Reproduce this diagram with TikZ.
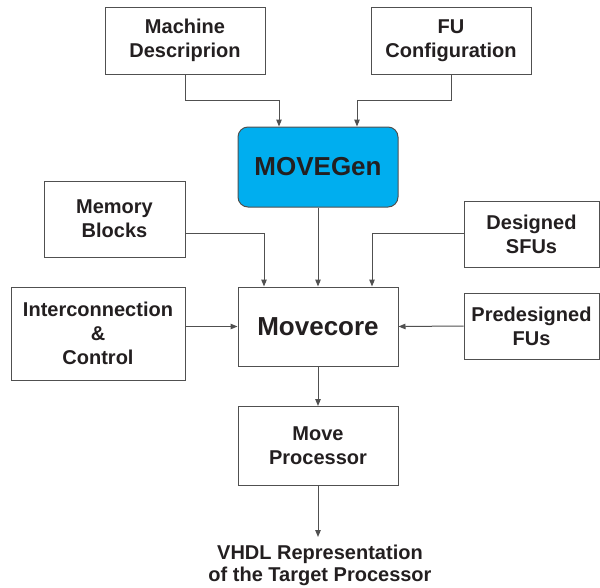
\documentclass[tikz,border=0pt]{standalone}
\usepackage{fontspec}
\setmainfont{Liberation Sans}
\usetikzlibrary{arrows.meta}
\definecolor{ink}{HTML}{231F20}
\definecolor{edge}{HTML}{505050}
\definecolor{gencyan}{HTML}{00AEEF}
\tikzset{
  blk/.style={draw=edge, line width=1pt, fill=white, align=center,
    font=\fontsize{20}{24}\selectfont\bfseries, text=ink, inner sep=0pt},
  bigblk/.style={blk, font=\fontsize{26}{30}\selectfont\bfseries},
  arr/.style={draw=edge, line width=1pt,
    -{Triangle[length=7pt,width=5.5pt]}},
}
\begin{document}
\begin{tikzpicture}[x=1pt,y=-1pt]
\useasboundingbox (0,0) rectangle (600,587);

% input specifications
\node[blk, minimum width=160pt, minimum height=67pt] (mach) at (185,40.5) {Machine\\Descriprion};
\node[blk, minimum width=160pt, minimum height=67pt] (fu) at (451,40.5) {FU\\Configuration};

% generator
\node[bigblk, fill=gencyan, rounded corners=10pt, minimum width=160pt, minimum height=80pt] (gen) at (318,167) {MOVEGen};

% component libraries
\node[blk, minimum width=141pt, minimum height=76pt] (mem) at (114.5,219) {Memory\\Blocks};
\node[blk, minimum width=135pt, minimum height=66pt] (sfu) at (531.5,234) {Designed\\SFUs};
\node[blk, minimum width=174pt, minimum height=93pt] (inter) at (98,333.5) {Interconnection\\\&\\Control};
\node[blk, minimum width=135pt, minimum height=66pt] (pre) at (531.5,326) {Predesigned\\FUs};

% core and result
\node[bigblk, minimum width=160pt, minimum height=79pt] (core) at (318,326.5) {Movecore};
\node[blk, minimum width=160pt, minimum height=79pt] (proc) at (318,446) {Move\\Processor};
\node[font=\fontsize{20}{22}\selectfont\bfseries, text=ink, align=center, inner sep=0pt, anchor=north] (vhdl) at (320,545) {VHDL Representation\\of the Target Processor};

% connectors
\draw[arr] (mach.south) -- ++(0,26) -| ([xshift=-39pt]gen.north);
\draw[arr] (fu.south) -- ++(0,26) -| ([xshift=39pt]gen.north);
\draw[arr] (gen.south) -- (core.north);
\draw[arr] ([yshift=-14pt]mem.east) -| ([xshift=-54pt]core.north);
\draw[arr] ([yshift=1pt]sfu.west) -| ([xshift=54pt]core.north);
\draw[arr] (inter.east |- core.west) -- (core.west);
\draw[arr] (pre.west) -- (core.east);
\draw[arr] (core.south) -- (proc.north);
\draw[arr] (proc.south) -- ([yshift=8pt]proc.south |- vhdl.north);
\end{tikzpicture}
\end{document}
